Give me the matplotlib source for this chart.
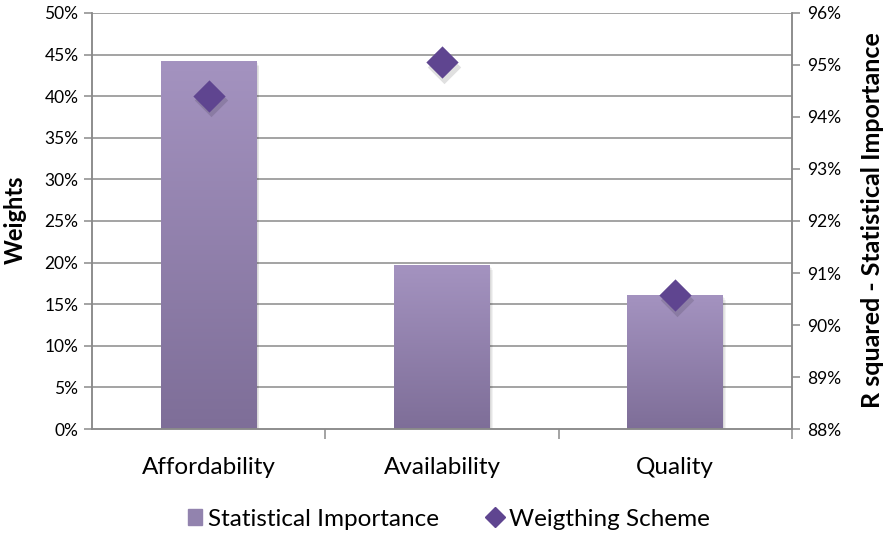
import matplotlib.pyplot as plt
import numpy as np
from matplotlib.colors import LinearSegmentedColormap
from matplotlib.lines import Line2D
from matplotlib.patches import Rectangle
from matplotlib.ticker import FuncFormatter

plt.rcParams["font.family"] = ["Lato", "DejaVu Sans"]

categories = ["Affordability", "Availability", "Quality"]
weights = [0.442, 0.197, 0.161]
r_squared = [0.9441, 0.9505, 0.9058]

grid_col = "#8a8a8a"
bar_top = "#a493c0"
bar_bottom = "#7e6e98"
diamond_col = "#5f4590"

fig = plt.figure(figsize=(8.85, 5.34), dpi=100)
ax = fig.add_axes([0.1043, 0.1966, 0.7903, 0.7791])
ax2 = ax.twinx()

x = np.arange(len(categories))
width = 0.41

ax.set_xlim(-0.5, 2.5)
ax.set_ylim(0, 0.5)
ax2.set_ylim(0.88, 0.96)

# horizontal gridlines
for yv in np.arange(0.05, 0.5001, 0.05):
    ax.axhline(yv, color=grid_col, lw=1.1, zorder=0)

# bars: soft shadow + vertical gradient fill
cmap = LinearSegmentedColormap.from_list("bar", [bar_bottom, bar_top])
grad = np.linspace(0, 1, 256).reshape(-1, 1)
for xi, h in zip(x, weights):
    for k in range(3):
        off = 0.004 * (k + 1)
        ax.add_patch(Rectangle((xi - width / 2 + off, -0.002 * (k + 1)), width, h,
                               color="black", alpha=0.05, lw=0, zorder=1))
    ax.imshow(grad, cmap=cmap, origin="lower", aspect="auto",
              extent=(xi - width / 2, xi + width / 2, 0, h), zorder=2)

ax.set_xticks([0.5, 1.5, 2.5], minor=False)
ax.set_xticklabels([])
ax.set_xticks(x, minor=True)
ax.set_xticklabels(categories, minor=True)
ax.tick_params(axis="x", which="major", length=7, color=grid_col, width=1.1)
ax.tick_params(axis="x", which="minor", length=0, pad=20, labelsize=17.5)

pct = FuncFormatter(lambda v, _: f"{v * 100:.0f}%")
ax.set_yticks(np.arange(0, 0.5001, 0.05))
ax.yaxis.set_major_formatter(pct)
ax.tick_params(axis="y", length=6, color=grid_col, width=1.1, labelsize=12.5, pad=4)

ax2.set_yticks(np.arange(0.88, 0.9601, 0.01))
ax2.yaxis.set_major_formatter(pct)
ax2.tick_params(axis="y", length=6, color=grid_col, width=1.1, labelsize=12.5, pad=5)

fig.text(15 / 885, 1 - 220 / 534, "Weights", rotation=90, ha="center", va="center",
         fontsize=17, fontweight="bold")
fig.text(872 / 885, 1 - 220 / 534, "R squared - Statistical Importance", rotation=90,
         ha="center", va="center", fontsize=18, fontweight="bold")

for a in (ax, ax2):
    a.spines["top"].set_visible(False)
    for side in ("left", "right", "bottom"):
        a.spines[side].set_color(grid_col)
        a.spines[side].set_linewidth(1.1)

# diamonds with a faint drop shadow
ax2.scatter(x + 0.01, np.array(r_squared) - 0.0009, marker="D", s=290, color="black",
            alpha=0.12, lw=0, zorder=3)
ax2.scatter(x, r_squared, marker="D", s=270, color=diamond_col, lw=0, zorder=4)

handles = [
    Rectangle((0, 0), 1, 1, color="#9283ae"),
    Line2D([], [], marker="D", ls="none", color=diamond_col, markersize=10),
]
fig.legend(handles, ["Statistical Importance", "Weigthing Scheme"], loc="center",
           bbox_to_anchor=(0.507, 0.028), ncol=2, frameon=False, fontsize=17.5,
           handlelength=0.6, handleheight=0.6, handletextpad=0.25, columnspacing=2.0)

fig.savefig("out.png", dpi=100)
